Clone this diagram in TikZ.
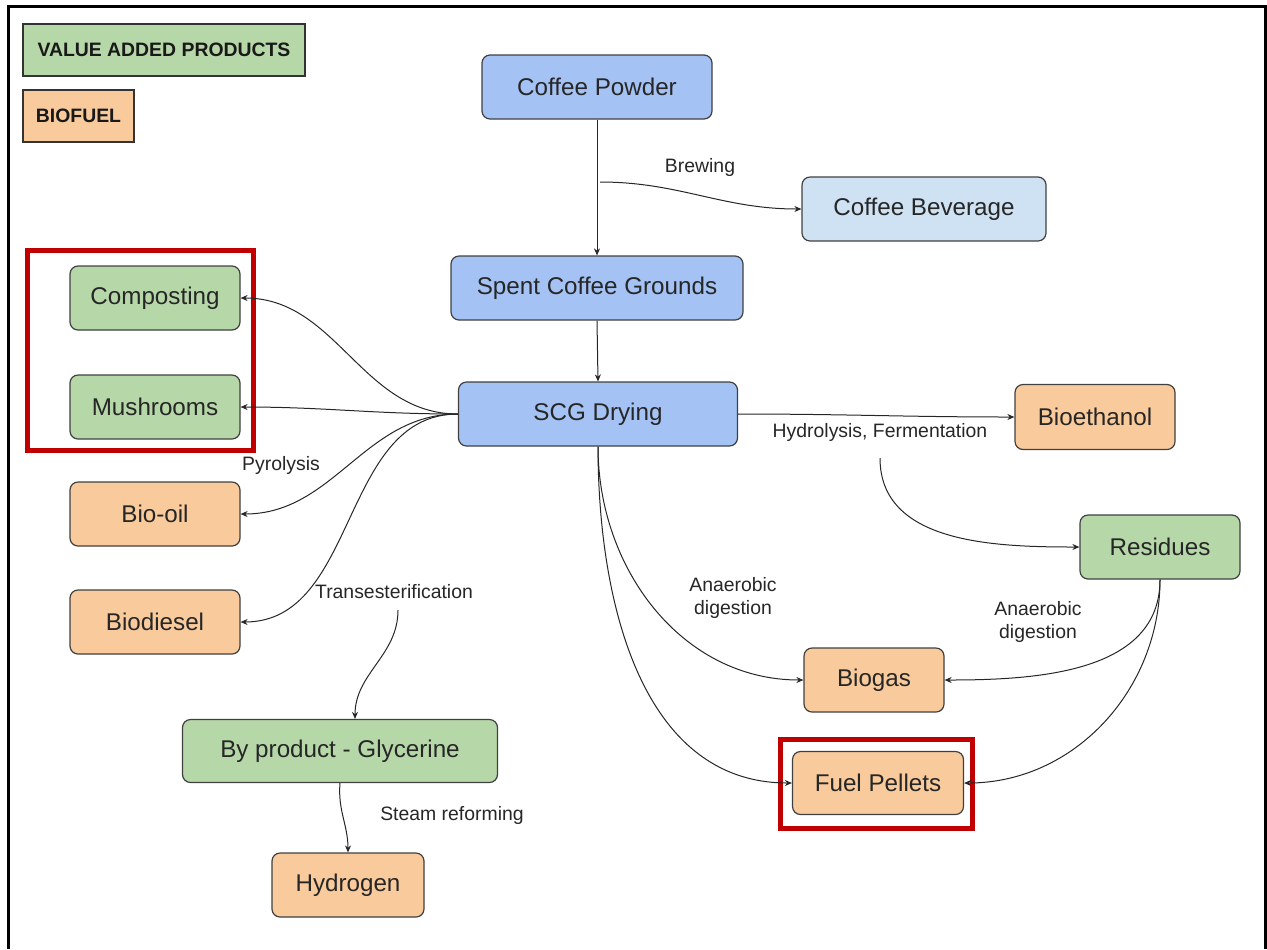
\documentclass[tikz,border=0pt]{standalone}
\usepackage{fontspec}
\setmainfont{Liberation Sans}
\usepackage{xcolor}
\usetikzlibrary{arrows.meta,calc}
\definecolor{boxblue}{HTML}{A4C2F4}
\definecolor{boxlightblue}{HTML}{CFE2F3}
\definecolor{boxgreen}{HTML}{B6D7A8}
\definecolor{boxorange}{HTML}{F9CB9C}
\definecolor{framered}{HTML}{C00000}
\tikzstyle{flowbox} = [draw=black!75, line width=0.6pt, rectangle, rounded corners=4pt,
    inner sep=0pt, text=black!85, font=\fontsize{12.1}{14}\selectfont]
\tikzstyle{bluebox} = [flowbox, fill=boxblue]
\tikzstyle{lightbluebox} = [flowbox, fill=boxlightblue]
\tikzstyle{greenbox} = [flowbox, fill=boxgreen]
\tikzstyle{orangebox} = [flowbox, fill=boxorange]
\tikzstyle{legendbox} = [draw=black!80, line width=0.6pt, rectangle, inner sep=0pt,
    text=black!90, font=\bfseries\fontsize{9.7}{11}\selectfont]
\tikzstyle{flowlabel} = [inner sep=0pt, align=center, text=black!85,
    font=\fontsize{9.7}{11.5}\selectfont]
\tikzstyle{flowarrow} = [draw=black!85, line width=0.5pt, -{Stealth[length=3.5pt,width=3pt]}]
\tikzstyle{redframe} = [draw=framered, line width=2.5pt]

\begin{document}
\begin{tikzpicture}[x=0.5pt, y=-0.5pt]
    \useasboundingbox (0,0) rectangle (1267,949);
    % outer frame, open at the bottom
    \draw[line width=1.5pt] (8,949) -- (8,6) -- (1265,6) -- (1265,949);

    % legend
    \node[legendbox, fill=boxgreen, minimum width=141pt, minimum height=26pt] (legvap) at (164,50) {VALUE ADDED PRODUCTS};
    \node[legendbox, fill=boxorange, minimum width=55.5pt, minimum height=26pt] (legfuel) at (78.5,116) {BIOFUEL};

    % main line
    \node[bluebox, minimum width=115pt, minimum height=32pt] (powder) at (597,87) {Coffee Powder};
    \node[lightbluebox, minimum width=122pt, minimum height=32pt] (beverage) at (924,209) {Coffee Beverage};
    \node[bluebox, minimum width=146pt, minimum height=32pt] (spent) at (597,288) {Spent Coffee Grounds};
    \node[bluebox, minimum width=139.5pt, minimum height=32pt] (drying) at (598,414) {SCG Drying};

    % left side
    \node[greenbox, minimum width=85pt, minimum height=32pt] (compost) at (155,298) {Composting};
    \node[greenbox, minimum width=85pt, minimum height=32pt] (mushroom) at (155,407) {Mushrooms};
    \node[orangebox, minimum width=85pt, minimum height=32pt] (biooil) at (155,514) {Bio-oil};
    \node[orangebox, minimum width=85pt, minimum height=32pt] (biodiesel) at (155,622) {Biodiesel};
    \node[greenbox, minimum width=157.5pt, minimum height=31.5pt] (glycerine) at (340,751) {By product - Glycerine};
    \node[orangebox, minimum width=76pt, minimum height=32pt] (hydrogen) at (348,885) {Hydrogen};

    % right side
    \node[orangebox, minimum width=80pt, minimum height=32.5pt] (bioethanol) at (1095,417) {Bioethanol};
    \node[greenbox, minimum width=80pt, minimum height=32pt] (residues) at (1160,547) {Residues};
    \node[orangebox, minimum width=70pt, minimum height=32pt] (biogas) at (874,680) {Biogas};
    \node[orangebox, minimum width=85.5pt, minimum height=31.5pt] (pellets) at (878,783) {Fuel Pellets};

    % highlight frames
    \draw[redframe] (27,250) rectangle (253,450);
    \draw[redframe] (780,739) rectangle (972,828);

    % labels
    \node[flowlabel] (brewlbl) at (700,167) {Brewing};
    \node[flowlabel] (hydrolbl) at (880,432) {Hydrolysis, Fermentation};
    \node[flowlabel] (pyrolbl) at (281,465) {Pyrolysis};
    \node[flowlabel] (translbl) at (394,592) {Transesterification};
    \node[flowlabel] (anaeleft) at (733,598) {Anaerobic\\digestion};
    \node[flowlabel] (anaeright) at (1038,622) {Anaerobic\\digestion};
    \node[flowlabel] (steamlbl) at (452,815) {Steam reforming};

    % split points
    \coordinate (brewsplit) at (600,182);
    \coordinate (hydrosplit) at (880,458);
    \coordinate (transsplit) at (398,610);

    % connectors
    \draw[flowarrow] (powder.south) -- (spent.north);
    \draw[flowarrow] (brewsplit) to[out=0, in=180] (beverage.west);
    \draw[flowarrow] (spent.south) -- (drying.north);
    \draw[flowarrow] (drying.west) to[out=180, in=0] (compost.east);
    \draw[flowarrow] (drying.west) to[out=180, in=0] (mushroom.east);
    \draw[flowarrow] (drying.west) to[out=180, in=0] (biooil.east);
    \draw[flowarrow] (drying.west) to[out=180, in=0] (biodiesel.east);
    \draw[flowarrow] (drying.east) to[out=0, in=180] (bioethanol.west);
    \draw[flowarrow] (hydrosplit) to[out=-90, in=180] (residues.west);
    \draw[flowarrow] (transsplit) to[out=-90, in=90] ($(glycerine.north)+(15,0)$);
    \draw[flowarrow] (drying.south) to[out=-90, in=180] (biogas.west);
    \draw[flowarrow] (drying.south) to[out=-90, in=180] (pellets.west);
    \draw[flowarrow] (residues.south) to[out=-90, in=0] (biogas.east);
    \draw[flowarrow] (residues.south) to[out=-90, in=0] (pellets.east);
    \draw[flowarrow] (glycerine.south) to[out=-95, in=90] (hydrogen.north);
\end{tikzpicture}
\end{document}
